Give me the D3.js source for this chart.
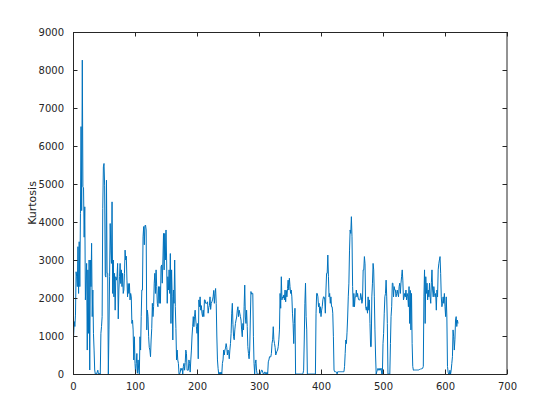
<!DOCTYPE html>
<html>
<head>
<meta charset="utf-8">
<script src="https://cdn.jsdelivr.net/npm/d3@7"></script>
<style>
  html, body { margin: 0; padding: 0; background: #ffffff; }
  svg { display: block; }
  text { font-family: "DejaVu Sans", sans-serif; }
</style>
</head>
<body>
<svg id="chart" width="560" height="420"></svg>
<script>
// Kurtosis values, one per sample index 1..622
const kurtosis1 = [
  1000,1380,1250,1550,2690,2560,2300,3350,2120,3480,
  2300,4230,6510,4300,8260,4930,4900,3600,4400,1950,
  2470,2910,630,2740,1070,3000,105,3000,2300,3440,
  1510,2210,1070,630,105,0,0,0,50,100,
  0,0,20,0,1070,1250,1510,4360,5450,5540,
  4970,2600,2550,5100,2650,2650,0,1160,2560,3960,
  3260,2910,4530,2120,3000,2030,2650,1680,2560,2470,
  2560,2910,1450,2210,2560,2910,2380,2740,2300,2650,
  2120,2210,2650,3260,3000,3100,2470,2030,2380,2120,
  2380,1950,2120,2030,1330,1420,1160,370,980,280,
  20,280,540,20,370,100,0,980,630,1510
];
const kurtosis2 = [
  2210,2210,3610,3880,3400,3900,3920,3790,1160,1680,
  1510,980,700,630,455,895,1200,1860,1510,1770,
  2390,2650,2120,2740,2300,1860,1770,2300,1860,2300,
  1860,2820,2870,2390,3000,3700,2740,3700,3000,3790,
  3000,1860,2560,2210,2740,2120,3170,1330,2740,2030,
  895,2210,1860,3000,1770,1200,370,630,370,280,
  0,0,50,150,100,150,0,200,280,100,
  300,630,540,100,100,100,370,280,50,370,
  630,1000,1245,1510,1245,1510,1680,1420,1245,1070,
  1330,400,1950,1770,2030,1680,1800,1600,1510,1680,
  1510,1950,1950,1860,1860,1860
];
const kurtosis3 = [
  1900,1600,1750,1800,2030,1700,1860,1900,1950,2030,
  2200,1860,2120,2250,1860,1000,370,150,0,0,
  50,0,50,0,280,370,630,500,630,680,
  800,700,500,630,600,400,630,800,1070,1600,
  1860,1300,980,900,1160,1330,1420,1500,1680,1770,
  1510,1680,1600,1510,1420,1160,980,1330,1160,1770,
  2340,1500,1330,1680,1250,720,540,400,630,1420,
  2170,2100,2130,2120,980,280,0,280,370,100,
  0,0,0,0,0,0,50,100,100,50,
  0,0,50,50,0,0,50,0,320,370,
  455,450,450,540,800,900,1245,900,800,700
];
const kurtosis4 = [
  500,550,600,630,720,900,1160,2120,1730,2560,
  1950,2030,2000,2080,1950,2210,1900,2200,2030,2250,
  2470,2210,2520,2300,2120,2210,2030,1600,1330,800,
  1330,1730,0,0,0,0,0,0,0,0,
  0,0,0,0,20,100,895,1860,2390,1510,
  1160,0,0,0,0,0,0,0,0,0,
  0,0,0,0,0,1600,2120,2120,2030,1770,
  1860,1600,1770,1510,1680,1770,1950,2030,2030,1950,
  1600,2210,2650,2650,3130,2560,2030,2120,1860,2030,
  1770,1770,1600,980,105,60,60,60,50,0,
  60,60,60,60,60,60,60,60,60,60,
  60,200,540,895,800,1100,1500,2030,2390,3260,
  3790,3700,4140,3610,2300,1770,2120,1770,2030,2030,
  2210,2030,2120,2000,1950,1950,1950,2120,2030,1860,
  1950,2740,2740,3090,2900,1770,1680,1770,1600,2030,
  1680,1950,1330,720,720,2030,2390,2910,2740,2030,
  1160,500,0,60,100,150,100,100,150,100,
  150,0,0,800,1070,1600,2030,2120,2470,2030,
  1330,0,0,0,0,800,1510,1770,2390,2390,
  2030,2300,2210,2210,2030,2120,2210,2100,2030,2300,
  2390,2120,2390,2560,2740,2470,1950,2030,2120,2030,
  2210,1950,2120,2030,1770,2300,1330,2200,1160
];
const kurtosis5 = [
  2120,800,200,100,105,105,105,105,105,105,
  105,105,110,120,120,140,130,150,150,200,
  2030,2740,1330,2560,2120,2390,1950,2210,2030,2390,
  2030,1860,2400,2740,2210,2030,2300,2120,2030,2120,
  1680,2210,2030,2740,2900,3000,3090,2650,2030,1770,
  1860,2030,1860,2120,1770,1510,2030,1500,200,50,
  0,0,100,0,100,280,455,1160,980,630,
  900,1420,1510,1250,1420,1330
];
const kurtosis = [...kurtosis1, ...kurtosis2, ...kurtosis3, ...kurtosis4, ...kurtosis5];
const sampleIndex = kurtosis.map((_, i) => i + 1);

const xTicks = [0, 100, 200, 300, 400, 500, 600, 700];
const yTicks = [0, 1000, 2000, 3000, 4000, 5000, 6000, 7000, 8000, 9000];
const yLabel = "Kurtosis";

const W = 560, H = 420;
const m = { left: 73, top: 32, right: 507, bottom: 374 };
const axisColor = "#262626";
const lineColor = "#0072BD";

const svg = d3.select("#chart");
const x = d3.scaleLinear().domain([0, 700]).range([m.left, m.right]);
const y = d3.scaleLinear().domain([0, 9000]).range([m.bottom, m.top]);

// data line
const line = d3.line().x((d, i) => x(sampleIndex[i])).y(d => y(d));
svg.append("path")
  .datum(kurtosis)
  .attr("d", line)
  .attr("fill", "none")
  .attr("stroke", lineColor)
  .attr("stroke-width", 1)
  .attr("stroke-linejoin", "miter");

const tickLen = 4.5;
function styleAxis(g) {
  g.select(".domain").remove();
  g.selectAll("line").attr("stroke", axisColor).attr("stroke-width", 1);
  g.selectAll("text").attr("fill", axisColor).style("font-size", "10px")
    .style("font-family", "'DejaVu Sans', sans-serif");
}

// bottom axis (ticks inward)
const gx = svg.append("g").attr("transform", `translate(0,${m.bottom})`)
  .call(d3.axisBottom(x).tickValues(xTicks).tickFormat(d3.format("d"))
    .tickSizeInner(-tickLen).tickSizeOuter(0).tickPadding(9));
styleAxis(gx);
// top axis ticks (no labels)
const gxt = svg.append("g").attr("transform", `translate(0,${m.top})`)
  .call(d3.axisTop(x).tickValues(xTicks).tickFormat("")
    .tickSizeInner(-tickLen).tickSizeOuter(0));
styleAxis(gxt);
// left axis
const gy = svg.append("g").attr("transform", `translate(${m.left},0)`)
  .call(d3.axisLeft(y).tickValues(yTicks).tickFormat(d3.format("d"))
    .tickSizeInner(-tickLen).tickSizeOuter(0).tickPadding(9));
styleAxis(gy);
// right axis ticks
const gyr = svg.append("g").attr("transform", `translate(${m.right},0)`)
  .call(d3.axisRight(y).tickValues(yTicks).tickFormat("")
    .tickSizeInner(-tickLen).tickSizeOuter(0));
styleAxis(gyr);

// box
svg.append("rect")
  .attr("x", m.left + 0.5).attr("y", m.top + 0.5)
  .attr("width", m.right - m.left - 1 + 0.5).attr("height", m.bottom - m.top)
  .attr("fill", "none").attr("stroke", axisColor).attr("stroke-width", 1);

// y label
svg.append("text")
  .attr("transform", `translate(36,${(m.top + m.bottom) / 2}) rotate(-90)`)
  .attr("text-anchor", "middle")
  .attr("fill", axisColor)
  .style("font-size", "11px")
  .text(yLabel);
</script>
</body>
</html>
